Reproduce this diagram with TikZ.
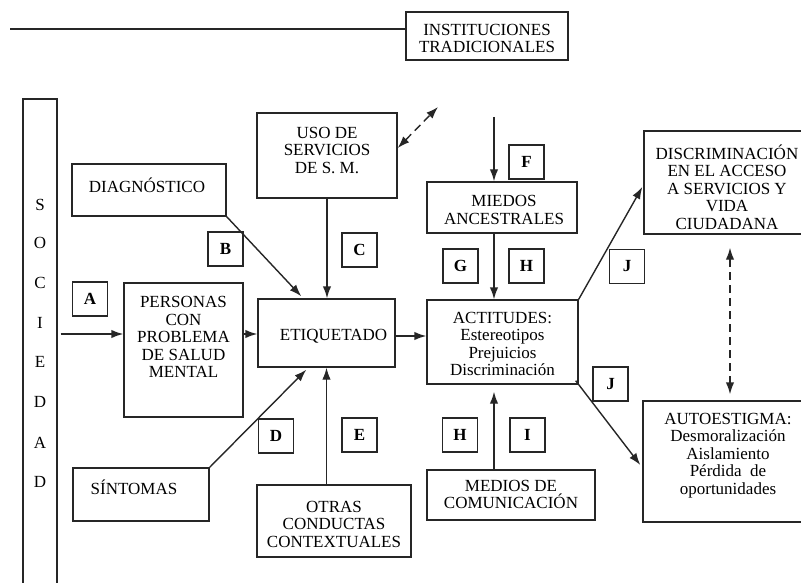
\documentclass[tikz,border=0pt]{standalone}
\usepackage{fontspec}
\setmainfont{Liberation Serif}
\usetikzlibrary{arrows.meta,calc}
\begin{document}
\begin{tikzpicture}[x=1pt,y=-1pt,
  box/.style={draw=black!85, line width=1.4pt, rectangle, inner sep=0pt},
  lbl/.style={box, minimum width=35pt, minimum height=34pt, font=\fontsize{17}{17}\selectfont\bfseries},
  txt/.style={align=center, inner sep=0pt, font=\fontsize{17}{17.5}\selectfont, text=black},
  conn/.style={draw=black!85, line width=1.4pt},
  arr/.style={conn, -{Latex[length=12pt,width=8.5pt]}},
  darr/.style={conn, dash pattern=on 8pt off 5pt, {Latex[length=12pt,width=8.5pt]}-{Latex[length=12pt,width=8.5pt]}},
]
\useasboundingbox (0,0) rectangle (801,583);
\clip (0,0) rectangle (801,583);
% boxes
\node[box, minimum width=162pt, minimum height=48pt] (inst) at (487,36) {};
\node[box, minimum width=34pt, minimum height=501pt] (soc) at (40,349.5) {};
\node[box, minimum width=154pt, minimum height=52pt] (diag) at (149,190) {};
\node[box, minimum width=119pt, minimum height=134pt] (pers) at (183.5,350) {};
\node[box, minimum width=140pt, minimum height=85pt] (uso) at (327,155.5) {};
\node[box, minimum width=137pt, minimum height=68pt] (etiq) at (326.5,333) {};
\node[box, minimum width=136pt, minimum height=53pt] (sint) at (141,494.5) {};
\node[box, minimum width=154pt, minimum height=72pt] (otras) at (334,521) {};
\node[box, minimum width=150pt, minimum height=51pt] (miedos) at (502,207.5) {};
\node[box, minimum width=151pt, minimum height=84pt] (act) at (502.5,342) {};
\node[box, minimum width=168pt, minimum height=50pt] (medios) at (511,495) {};
\node[box, minimum width=176pt, minimum height=103pt] (disc) at (732,182.5) {};
\node[box, minimum width=177pt, minimum height=121pt] (auto) at (731.5,461.5) {};
% letter boxes
\node[lbl] (la) at (90,299) {A};
\node[lbl] (lb) at (225.5,249) {B};
\node[lbl] (lc) at (359.5,250) {C};
\node[lbl] (ld) at (276,436) {D};
\node[lbl] (le) at (359.5,435) {E};
\node[lbl] (lf) at (526.5,162) {F};
\node[lbl] (lg) at (460.5,266) {G};
\node[lbl] (lh1) at (526.5,266) {H};
\node[lbl] (lh2) at (460,435) {H};
\node[lbl] (li) at (527.5,435) {I};
\node[lbl] (lj1) at (627,266.5) {J};
\node[lbl] (lj2) at (610.5,384) {J};
% texts
\node[txt] (tinst) at (487,38.5) {INSTITUCIONES\\TRADICIONALES};
\foreach \l/\yy [count=\i] in {S/205,O/243,C/283,I/323,E/362,D/402,A/443,D/482}
  \node[txt] (s\i) at (40,\yy) {\l};
\node[txt] (tdiag) at (147,185) {DIAGNÓSTICO};
\node[txt] (tpers) at (183.5,337) {PERSONAS\\CON\\PROBLEMA\\DE SALUD\\MENTAL};
\node[txt] (tuso) at (327,150) {USO DE\\SERVICIOS\\DE S. M.};
\node[txt] (tetiq) at (333.5,336) {ETIQUETADO};
\node[txt] (tsint) at (134,487) {SÍNTOMAS};
\node[txt] (totras) at (334,524) {OTRAS\\CONDUCTAS\\CONTEXTUALES};
\node[txt] (tmiedos) at (504,210) {MIEDOS\\ANCESTRALES};
\node[txt] (tact) at (502.5,344) {ACTITUDES:\\Estereotipos\\Prejuicios\\Discriminación};
\node[txt] (tmedios) at (511,494.5) {MEDIOS DE\\COMUNICACIÓN};
\node[txt] (tdisc) at (727,187) {DISCRIMINACIÓN\\EN EL ACCESO\\A SERVICIOS Y\\VIDA\\CIUDADANA};
\node[txt] (tauto) at (728,455.5) {AUTOESTIGMA:\\Desmoralización\\Aislamiento\\Pérdida\ \ de\\oportunidades};
% connectors
\coordinate (tl) at (10,29);
\draw[conn] (tl) -- (tl -| inst.west);
\coordinate (ay) at (0,334);
\draw[arr] ([xshift=3pt]soc.east |- ay) -- (pers.west |- ay);
\draw[arr] (pers.east |- ay) -- (etiq.west |- ay);
\draw[arr] (diag.south east) -- ([xshift=44pt,yshift=2pt]etiq.north west);
\draw[arr] (uso.south) -- (uso.south |- etiq.north);
\draw[arr] (sint.north east) -- ([xshift=49pt,yshift=-2pt]etiq.south west);
\draw[arr] (etiq.south |- otras.north) -- (etiq.south);
\coordinate (ey) at (0,336);
\draw[arr] (etiq.east |- ey) -- (act.west |- ey);
\coordinate (mx) at (494,117);
\draw[arr] (mx) -- (mx |- miedos.north);
\draw[arr] (mx |- miedos.south) -- (mx |- act.north);
\draw[arr, shorten >=7pt] (mx |- medios.north) -- (mx |- act.south);
\draw[arr] (act.north east) -- ([xshift=-1pt,yshift=-4.5pt]disc.west);
\draw[arr] ([xshift=-3pt,yshift=4pt]act.south east) -- ([xshift=-2pt,yshift=-3.5pt]auto.west);
\coordinate (dx) at (730,0);
\draw[darr, shorten <=13pt, shorten >=6pt] (dx |- disc.south) -- (dx |- auto.north);
\coordinate (dtip) at (438,107);
\draw[darr] ([yshift=7.5pt]uso.east) -- (dtip);
\end{tikzpicture}
\end{document}
